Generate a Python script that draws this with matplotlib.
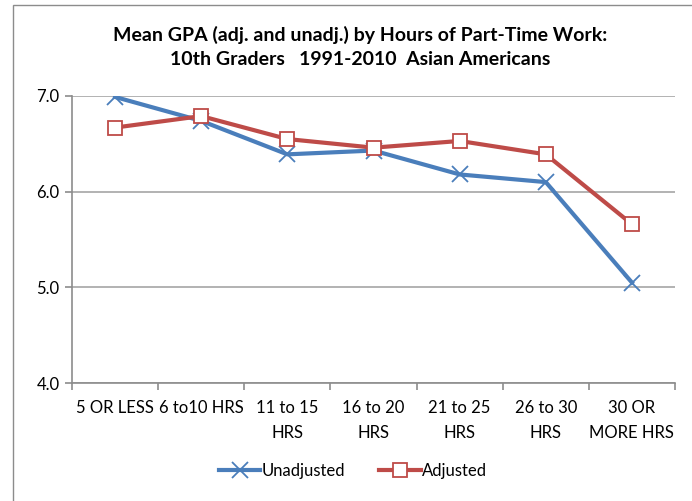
import matplotlib
matplotlib.use("Agg")
import matplotlib.pyplot as plt
from matplotlib.patches import Rectangle
import numpy as np

categories = ["5 OR LESS", "6 to10 HRS", "11 to 15\nHRS", "16 to 20\nHRS",
              "21 to 25\nHRS", "26 to 30\nHRS", "30 OR\nMORE HRS"]
unadjusted = [6.99, 6.74, 6.39, 6.43, 6.18, 6.10, 5.05]
adjusted = [6.67, 6.79, 6.55, 6.46, 6.53, 6.39, 5.66]
yticks = [4.0, 5.0, 6.0, 7.0]
title = "Mean GPA (adj. and unadj.) by Hours of Part-Time Work:\n10th Graders   1991-2010  Asian Americans"

plt.rcParams['font.family'] = ['Lato', 'DejaVu Sans']

W, H = 692, 501
fig = plt.figure(figsize=(W / 100, H / 100), dpi=100)

# outer chart border
fig.patches.append(Rectangle((13 / W, -0.01), 1.0, 1 - 5 / H + 0.01,
                             transform=fig.transFigure, fill=False,
                             edgecolor="#8c8c8c", linewidth=1.0))

left, right, top, bottom = 72, 675, 96, 383
ax = fig.add_axes([left / W, 1 - bottom / H, (right - left) / W, (bottom - top) / H])

x = np.arange(len(categories))
blue = "#4a7ebb"
red = "#be4b48"
ax.plot(x, unadjusted, color=blue, linewidth=3.0, marker="x", markersize=12,
        markeredgewidth=1.3, label="Unadjusted", zorder=3)
ax.plot(x, adjusted, color=red, linewidth=3.0, marker="s", markersize=10,
        markerfacecolor="white", markeredgecolor=red, markeredgewidth=1.3,
        label="Adjusted", zorder=4)

ax.set_xlim(-0.5, len(categories) - 0.5)
ax.set_ylim(4.0, 7.0)
ax.set_yticks(yticks)
ax.set_yticklabels([f"{v:.1f}" for v in yticks], fontsize=12)
ax.yaxis.grid(True, color="#a6a6a6", linewidth=1.2)
ax.set_axisbelow(True)

ax.set_xticks(x)
ax.set_xticklabels(categories, fontsize=12, linespacing=1.7, va="top")
ax.tick_params(axis="x", length=0, pad=12)
ax.set_xticks(np.arange(-0.5, len(categories)), minor=True)
ax.tick_params(axis="x", which="minor", length=5, color="#8c8c8c", width=1.2)
ax.tick_params(axis="y", length=5, color="#8c8c8c", width=1.2, pad=4)

for s in ["top", "right"]:
    ax.spines[s].set_visible(False)
for s in ["left", "bottom"]:
    ax.spines[s].set_color("#8c8c8c")
    ax.spines[s].set_linewidth(1.2)

fig.text(360 / W, 1 - 47 / H, title, ha="center", va="center", fontsize=14,
         fontweight="bold", linespacing=1.55)

ax.legend(loc="center", bbox_to_anchor=(353 / W, 1 - 471 / H),
          bbox_transform=fig.transFigure, ncol=2, frameon=False, fontsize=12,
          handlelength=2.5, handletextpad=0.1, columnspacing=2.0)

fig.savefig("out.png", dpi=100)
